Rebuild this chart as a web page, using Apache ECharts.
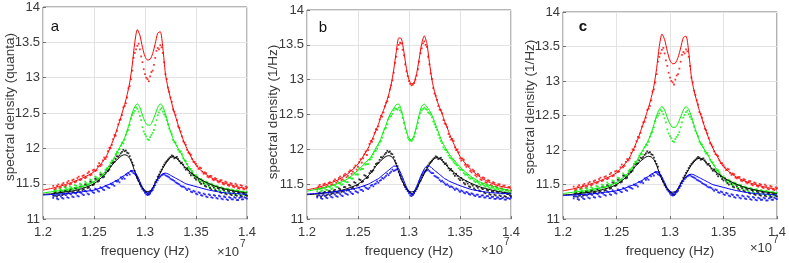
<!DOCTYPE html>
<html><head><meta charset="utf-8">
<script src="https://cdn.jsdelivr.net/npm/echarts@6/dist/echarts.min.js"></script>
<style>html,body{margin:0;padding:0;background:#fff}#c{width:789px;height:263px}</style>
</head><body><div id="c"></div>
<script>
// frequency (x 1e7) for fitted curves
const lineX = [1.20,1.21,1.22,1.23,1.24,1.25,
  1.26,1.2625,1.265,1.2675,1.27,1.2725,1.275,1.2775,1.28,1.2825,1.285,1.2875,1.29,1.2925,1.295,1.2975,
  1.30,1.3025,1.305,1.3075,1.31,1.3125,1.315,1.3175,1.32,1.3225,1.325,1.3275,1.33,1.3325,1.335,1.3375,1.34,
  1.35,1.36,1.37,1.38,1.39,1.40];
// frequency (x 1e7) for measured points, two interleaved sweeps
const dotX = [1.21,1.2125,1.215,1.2175,1.22,1.2225,1.225,1.2275,1.23,1.2325,1.235,1.2375,1.24,1.2425,1.245,1.2475,
  1.25,1.2525,1.255,1.2575,1.26,1.2625,1.265,1.2675,1.27,1.2725,1.275,1.2775,1.28,1.2825,1.285,1.2875,1.29,1.2925,
  1.295,1.2975,1.30,1.3025,1.305,1.3075,1.31,1.3125,1.315,1.3175,1.32,1.3225,1.325,1.3275,1.33,1.3325,1.335,1.3375,
  1.34,1.3425,1.345,1.3475,1.35,1.3525,1.355,1.3575,1.36,1.3625,1.365,1.3675,1.37,1.3725,1.375,1.3775,1.38,1.3825,
  1.385,1.3875,1.39,1.3925,1.395,1.3975,1.40];
const dotX2 = [1.21125,1.21375,1.21625,1.21875,1.22125,1.22375,1.22625,1.22875,1.23125,1.23375,1.23625,1.23875,
  1.24125,1.24375,1.24625,1.24875,1.25125,1.25375,1.25625,1.25875,1.26125,1.26375,1.26625,1.26875,1.27125,1.27375,
  1.27625,1.27875,1.28125,1.28375,1.28625,1.28875,1.29125,1.29375,1.29625,1.29875,1.30125,1.30375,1.30625,1.30875,
  1.31125,1.31375,1.31625,1.31875,1.32125,1.32375,1.32625,1.32875,1.33125,1.33375,1.33625,1.33875,1.34125,1.34375,
  1.34625,1.34875,1.35125,1.35375,1.35625,1.35875,1.36125,1.36375,1.36625,1.36875,1.37125,1.37375,1.37625,1.37875,
  1.38125,1.38375,1.38625,1.38875,1.39125,1.39375,1.39625,1.39875];

// panel a / c fitted curves
const redLineA = [11.41,11.44,11.48,11.53,11.59,11.67,11.84,11.90,11.98,12.07,12.16,12.27,12.38,12.50,12.62,12.76,12.93,13.18,13.50,13.68,13.60,13.43,13.30,13.25,13.26,13.34,13.48,13.63,13.65,13.42,13.06,12.86,12.71,12.57,12.45,12.33,12.22,12.12,12.03,11.76,11.63,11.55,11.50,11.46,11.43];
const greenLineA = [11.37,11.39,11.41,11.44,11.47,11.53,11.65,11.70,11.76,11.81,11.87,11.94,12.01,12.07,12.15,12.25,12.37,12.50,12.59,12.63,12.58,12.47,12.38,12.33,12.33,12.39,12.48,12.58,12.63,12.59,12.49,12.36,12.24,12.14,12.06,12.00,11.94,11.87,11.80,11.60,11.51,11.46,11.42,11.40,11.38];
const blackLineA = [11.35,11.36,11.38,11.40,11.44,11.50,11.62,11.66,11.71,11.76,11.80,11.84,11.87,11.90,11.91,11.90,11.86,11.78,11.67,11.57,11.50,11.44,11.40,11.39,11.40,11.44,11.51,11.58,11.65,11.72,11.78,11.83,11.87,11.88,11.87,11.84,11.80,11.76,11.72,11.60,11.52,11.46,11.42,11.39,11.37];
const blueLineA = [11.34,11.35,11.36,11.37,11.39,11.41,11.46,11.48,11.49,11.51,11.53,11.55,11.57,11.60,11.62,11.65,11.67,11.69,11.67,11.61,11.53,11.45,11.40,11.37,11.39,11.44,11.51,11.57,11.61,11.64,11.65,11.64,11.62,11.60,11.58,11.56,11.54,11.52,11.50,11.46,11.42,11.39,11.37,11.36,11.35];
// panel b fitted curves
const redLineB = [11.42,11.45,11.50,11.56,11.65,11.79,12.02,12.10,12.18,12.27,12.36,12.47,12.56,12.66,12.78,12.93,13.14,13.40,13.60,13.59,13.40,13.16,13.00,12.94,12.96,13.09,13.30,13.52,13.63,13.52,13.25,13.00,12.83,12.70,12.60,12.51,12.40,12.31,12.21,11.90,11.72,11.60,11.52,11.47,11.44];
const greenLineB = [11.40,11.43,11.46,11.51,11.58,11.70,11.85,11.89,11.95,12.02,12.08,12.16,12.26,12.35,12.46,12.53,12.59,12.64,12.65,12.56,12.41,12.26,12.16,12.14,12.20,12.34,12.50,12.62,12.65,12.61,12.56,12.49,12.40,12.30,12.20,12.11,12.04,11.98,11.92,11.75,11.62,11.53,11.48,11.44,11.41];
const blackLineB = blackLineA;
const blueLineB = [11.36,11.37,11.38,11.40,11.42,11.45,11.50,11.52,11.54,11.56,11.58,11.61,11.64,11.67,11.70,11.73,11.76,11.76,11.72,11.64,11.55,11.46,11.39,11.36,11.39,11.47,11.56,11.65,11.72,11.76,11.76,11.73,11.70,11.67,11.64,11.61,11.58,11.56,11.54,11.48,11.43,11.40,11.38,11.37,11.36];

// panel a / c measured points (sweep 1 on dotX, sweep 2 on dotX2)
const redDotsA = [11.47,11.43,11.49,11.45,11.51,11.47,11.54,11.50,11.56,11.53,11.60,11.56,11.62,11.59,11.67,11.63,11.70,11.69,11.79,11.77,11.87,11.88,12.01,12.05,12.19,12.25,12.40,12.47,12.60,12.72,12.88,13.10,13.35,13.45,13.40,13.22,13.05,12.98,13.02,13.10,13.28,13.42,13.46,13.35,13.05,12.86,12.72,12.55,12.47,12.31,12.24,12.10,12.05,11.94,11.91,11.81,11.78,11.71,11.72,11.64,11.65,11.59,11.61,11.55,11.57,11.52,11.55,11.49,11.52,11.47,11.50,11.45,11.48,11.43,11.47,11.42,11.45];
const redDotsA2 = [11.42,11.47,11.44,11.49,11.46,11.52,11.49,11.55,11.52,11.58,11.55,11.61,11.58,11.65,11.62,11.69,11.68,11.75,11.75,11.83,11.85,11.96,12.00,12.13,12.18,12.34,12.41,12.58,12.64,12.85,12.98,13.28,13.40,13.48,13.30,13.12,13.00,12.95,13.08,13.18,13.38,13.40,13.43,13.22,12.98,12.80,12.66,12.52,12.40,12.29,12.17,12.08,11.98,11.93,11.85,11.81,11.75,11.73,11.67,11.66,11.60,11.61,11.56,11.58,11.53,11.55,11.50,11.53,11.48,11.51,11.46,11.50,11.44,11.48,11.43,11.46];
const greenDotsA = [11.36,11.41,11.37,11.42,11.38,11.44,11.40,11.45,11.41,11.47,11.43,11.49,11.45,11.51,11.49,11.55,11.52,11.59,11.57,11.64,11.63,11.72,11.74,11.83,11.86,11.95,11.99,12.08,12.12,12.24,12.33,12.47,12.53,12.56,12.46,12.30,12.20,12.13,12.16,12.22,12.33,12.47,12.55,12.52,12.45,12.34,12.24,12.12,12.08,11.98,11.96,11.86,11.82,11.72,11.71,11.62,11.62,11.54,11.57,11.50,11.53,11.46,11.50,11.44,11.47,11.41,11.45,11.39,11.43,11.37,11.42,11.36,11.41,11.35,11.39,11.34,11.38];
const greenDotsA2 = [11.40,11.36,11.43,11.39,11.45,11.40,11.46,11.42,11.48,11.44,11.50,11.46,11.53,11.48,11.56,11.52,11.60,11.57,11.66,11.62,11.70,11.71,11.80,11.82,11.92,11.94,12.04,12.07,12.19,12.26,12.42,12.50,12.58,12.52,12.40,12.24,12.17,12.12,12.19,12.26,12.40,12.51,12.57,12.48,12.40,12.28,12.20,12.09,12.04,11.95,11.92,11.83,11.78,11.70,11.68,11.60,11.59,11.53,11.55,11.49,11.52,11.45,11.49,11.43,11.46,11.40,11.44,11.38,11.43,11.37,11.41,11.35,11.40,11.34,11.39,11.35];
const blackDotsA = [11.33,11.38,11.34,11.39,11.35,11.40,11.37,11.42,11.38,11.43,11.40,11.46,11.42,11.48,11.45,11.52,11.49,11.56,11.54,11.62,11.60,11.69,11.70,11.79,11.81,11.89,11.90,11.95,11.96,11.94,11.89,11.80,11.68,11.58,11.49,11.43,11.39,11.36,11.38,11.43,11.52,11.60,11.67,11.74,11.80,11.84,11.88,11.89,11.87,11.85,11.79,11.77,11.70,11.69,11.62,11.62,11.56,11.56,11.50,11.51,11.46,11.48,11.42,11.45,11.40,11.43,11.37,11.41,11.35,11.39,11.34,11.38,11.33,11.37,11.32,11.36,11.33];
const blackDotsA2 = [11.37,11.32,11.38,11.34,11.40,11.36,11.41,11.38,11.44,11.39,11.46,11.41,11.49,11.44,11.53,11.48,11.57,11.53,11.63,11.59,11.66,11.68,11.75,11.80,11.85,11.88,11.93,11.98,11.97,11.93,11.84,11.76,11.63,11.54,11.46,11.41,11.38,11.35,11.40,11.47,11.55,11.63,11.70,11.77,11.82,11.86,11.90,11.86,11.88,11.82,11.80,11.73,11.72,11.65,11.65,11.58,11.59,11.52,11.54,11.47,11.50,11.44,11.47,11.41,11.44,11.38,11.42,11.36,11.40,11.35,11.39,11.34,11.37,11.33,11.36,11.34];
const blueDotsA = [11.30,11.33,11.28,11.32,11.29,11.34,11.30,11.35,11.31,11.36,11.32,11.37,11.34,11.39,11.35,11.40,11.37,11.42,11.39,11.44,11.41,11.46,11.44,11.49,11.47,11.53,11.52,11.57,11.57,11.62,11.63,11.67,11.64,11.59,11.51,11.43,11.37,11.34,11.36,11.41,11.48,11.55,11.60,11.63,11.62,11.60,11.57,11.55,11.52,11.50,11.47,11.46,11.43,11.43,11.39,11.40,11.36,11.38,11.34,11.36,11.32,11.35,11.31,11.34,11.30,11.33,11.29,11.32,11.28,11.31,11.28,11.31,11.27,11.30,11.28,11.31,11.29];
const blueDotsA2 = [11.33,11.29,11.34,11.30,11.35,11.31,11.36,11.32,11.37,11.33,11.38,11.35,11.40,11.36,11.42,11.38,11.43,11.40,11.45,11.42,11.47,11.45,11.50,11.49,11.54,11.54,11.59,11.59,11.63,11.65,11.68,11.65,11.62,11.55,11.47,11.40,11.35,11.35,11.39,11.45,11.52,11.58,11.62,11.64,11.61,11.59,11.56,11.54,11.51,11.49,11.46,11.45,11.41,11.42,11.38,11.39,11.35,11.37,11.33,11.35,11.31,11.34,11.30,11.33,11.29,11.32,11.28,11.31,11.27,11.30,11.28,11.30,11.27,11.31,11.28,11.30];
// panel b measured points
const redDotsB = [11.43,11.49,11.45,11.51,11.48,11.53,11.50,11.57,11.54,11.61,11.57,11.65,11.62,11.70,11.68,11.77,11.75,11.86,11.87,11.97,11.99,12.12,12.15,12.29,12.33,12.48,12.53,12.67,12.75,12.92,13.10,13.33,13.50,13.52,13.35,13.12,12.98,12.92,12.95,13.06,13.26,13.45,13.55,13.47,13.22,13.01,12.80,12.71,12.57,12.52,12.37,12.32,12.18,12.15,12.03,12.00,11.87,11.87,11.78,11.78,11.69,11.71,11.63,11.65,11.57,11.60,11.53,11.56,11.49,11.53,11.47,11.50,11.44,11.48,11.42,11.46,11.41];
const redDotsB2 = [11.47,11.44,11.50,11.46,11.52,11.49,11.55,11.52,11.59,11.56,11.63,11.60,11.68,11.65,11.74,11.71,11.82,11.81,11.93,11.92,12.08,12.11,12.24,12.28,12.43,12.47,12.62,12.69,12.86,12.99,13.24,13.44,13.53,13.43,13.22,13.05,12.94,12.93,13.00,13.15,13.38,13.52,13.50,13.33,13.09,12.88,12.77,12.62,12.56,12.42,12.36,12.22,12.14,12.12,11.99,11.96,11.84,11.85,11.75,11.76,11.67,11.69,11.61,11.63,11.56,11.59,11.52,11.55,11.48,11.52,11.46,11.50,11.44,11.48,11.42,11.46];
const greenDotsB = [11.40,11.43,11.41,11.44,11.42,11.46,11.44,11.48,11.46,11.51,11.50,11.54,11.53,11.59,11.58,11.64,11.64,11.71,11.72,11.78,11.79,11.86,11.93,11.98,12.06,12.12,12.24,12.31,12.43,12.48,12.56,12.58,12.60,12.53,12.38,12.24,12.14,12.12,12.18,12.30,12.45,12.56,12.60,12.57,12.52,12.46,12.36,12.28,12.16,12.09,12.00,11.96,11.88,11.85,11.80,11.77,11.71,11.70,11.64,11.63,11.58,11.58,11.53,11.53,11.49,11.50,11.46,11.47,11.44,11.45,11.42,11.43,11.40,11.42,11.38,11.40,11.37];
const greenDotsB2 = [11.44,11.40,11.45,11.42,11.47,11.43,11.49,11.46,11.52,11.49,11.55,11.53,11.60,11.58,11.66,11.64,11.73,11.72,11.80,11.79,11.85,11.89,11.97,12.01,12.10,12.17,12.29,12.36,12.47,12.51,12.59,12.57,12.56,12.45,12.30,12.17,12.13,12.14,12.24,12.38,12.52,12.58,12.58,12.53,12.50,12.40,12.32,12.21,12.12,12.03,11.99,11.91,11.87,11.82,11.78,11.73,11.71,11.66,11.64,11.60,11.59,11.55,11.54,11.51,11.51,11.48,11.48,11.45,11.46,11.43,11.44,11.41,11.42,11.39,11.41,11.38];
const blackDotsB = blackDotsA;
const blackDotsB2 = blackDotsA2;
const blueDotsB = [11.31,11.34,11.29,11.33,11.30,11.34,11.31,11.35,11.32,11.36,11.33,11.37,11.35,11.39,11.36,11.40,11.38,11.42,11.40,11.45,11.43,11.48,11.47,11.51,11.52,11.56,11.58,11.62,11.63,11.68,11.69,11.71,11.68,11.61,11.52,11.43,11.37,11.33,11.37,11.45,11.54,11.63,11.68,11.70,11.69,11.66,11.62,11.60,11.56,11.55,11.51,11.50,11.46,11.46,11.42,11.43,11.39,11.40,11.37,11.38,11.35,11.36,11.33,11.35,11.32,11.34,11.31,11.33,11.30,11.32,11.29,11.31,11.29,11.31,11.28,11.30,11.31];
const blueDotsB2 = [11.34,11.30,11.35,11.31,11.36,11.32,11.37,11.33,11.38,11.34,11.39,11.36,11.41,11.37,11.43,11.39,11.45,11.42,11.47,11.44,11.45,11.49,11.50,11.54,11.55,11.59,11.60,11.65,11.66,11.71,11.70,11.72,11.64,11.57,11.47,11.40,11.34,11.35,11.41,11.49,11.58,11.65,11.69,11.71,11.67,11.66,11.61,11.59,11.54,11.53,11.49,11.48,11.47,11.44,11.44,11.41,11.41,11.38,11.39,11.36,11.37,11.34,11.35,11.32,11.34,11.31,11.33,11.30,11.32,11.29,11.31,11.29,11.30,11.28,11.30,11.29];

const yTicks = [11, 11.5, 12, 12.5, 13, 13.5, 14];
const xTicks = [1.2, 1.25, 1.3, 1.35, 1.4];
const panelTags = ['a', 'b', 'c'];
const yTitles = ['spectral density (quanta)', 'spectral density (1/Hz)', 'spectral density (1/Hz)'];
const xTitle = 'frequency (Hz)';

const FONT = '"Liberation Sans", Arial, Helvetica, sans-serif';
const TXT = '#3a3a3a';
const COLORS = {red:'#ff0000', green:'#00f000', black:'#000000', blue:'#0000ff'};

const grids = [
  {left:43, top:7, width:204, height:220},
  {left:307, top:10, width:204, height:215},
  {left:563, top:12, width:217, height:211}
];
const panelData = [
  {lines:[redLineA,greenLineA,blackLineA,blueLineA], dots:[redDotsA,greenDotsA,blackDotsA,blueDotsA], dots2:[redDotsA2,greenDotsA2,blackDotsA2,blueDotsA2]},
  {lines:[redLineB,greenLineB,blackLineB,blueLineB], dots:[redDotsB,greenDotsB,blackDotsB,blueDotsB], dots2:[redDotsB2,greenDotsB2,blackDotsB2,blueDotsB2]},
  {lines:[redLineA,greenLineA,blackLineA,blueLineA], dots:[redDotsA,greenDotsA,blackDotsA,blueDotsA], dots2:[redDotsA2,greenDotsA2,blackDotsA2,blueDotsA2]}
];
const colorOrder = [COLORS.red, COLORS.green, COLORS.black, COLORS.blue];

function pts(xs, ys){ return xs.map((x,i)=>[x, ys[i]]); }

const option = {
  animation:false,
  backgroundColor:'#fff',
  grid: grids.map(g=>Object.assign({show:true, borderColor:'#707070', borderWidth:1, backgroundColor:'transparent'}, g)),
  xAxis: grids.map((g,k)=>({
    type:'value', gridIndex:k, min:xTicks[0], max:xTicks[xTicks.length-1], interval:0.05,
    name:xTitle, nameLocation:'middle', nameGap:15,
    nameTextStyle:{fontFamily:FONT, fontSize:13.5, color:TXT},
    axisLine:{show:false},
    axisTick:{show:true, inside:true, length:3, lineStyle:{color:'#707070'}},
    axisLabel:{fontFamily:FONT, fontSize:13, color:TXT, margin:7, showMinLabel:true, showMaxLabel:true,
      formatter:v=>String(+v.toFixed(2))},
    splitLine:{show:true, lineStyle:{color:'#e3e3e3', width:1}}
  })),
  yAxis: grids.map((g,k)=>({
    type:'value', gridIndex:k, min:yTicks[0], max:yTicks[yTicks.length-1], interval:0.5,
    axisLine:{show:false},
    axisTick:{show:true, inside:true, length:3, lineStyle:{color:'#707070'}},
    axisLabel:{fontFamily:FONT, fontSize:13, color:TXT, margin:3, showMinLabel:true, showMaxLabel:true},
    splitLine:{show:true, lineStyle:{color:'#e3e3e3', width:1}}
  })),
  series: [],
  graphic: []
};

panelData.forEach((p,k)=>{
  [[dotX,p.dots],[dotX2,p.dots2]].forEach(([xs,set])=>{
    set.forEach((d,j)=>{
      option.series.push({type:'scatter', xAxisIndex:k, yAxisIndex:k, data:pts(xs,d),
        symbol:'rect', symbolSize:1.8, itemStyle:{color:colorOrder[j]}, silent:true, z:2});
    });
  });
  p.lines.forEach((l,j)=>{
    option.series.push({type:'line', xAxisIndex:k, yAxisIndex:k, data:pts(lineX,l),
      showSymbol:false, smooth:0.25, lineStyle:{width:1, color:colorOrder[j]}, silent:true, z:3});
  });
});

// y-axis titles (rotated), placed as in the reference
const yTitlePos = [[10,107],[273,112],[530,107]];
yTitlePos.forEach((t,k)=>{
  option.graphic.push({type:'text', x:t[0], y:t[1], rotation:Math.PI/2,
    style:{text:yTitles[k], font:'13.5px '+FONT, fill:TXT, align:'center', verticalAlign:'middle'}});
});
const tagPos = [[55,27],[323,28],[583,27]];
tagPos.forEach((t,k)=>{
  option.graphic.push({type:'text', x:t[0], y:t[1], style:{text:panelTags[k], font:(k===2?'bold ':'')+'15px '+FONT,
    fill:'#111', align:'center', verticalAlign:'middle'}});
});
grids.forEach((g,k)=>{
  const right = g.left + g.width, bottom = g.top + g.height;
  option.graphic.push({type:'text', x:right-8, y:bottom+25.5, style:{text:'\u00d710', font:'13px '+FONT, fill:TXT, align:'right', verticalAlign:'middle'}});
  option.graphic.push({type:'text', x:right-7, y:bottom+17.5, style:{text:'7', font:'10px '+FONT, fill:TXT, align:'left', verticalAlign:'middle'}});
});

const chart = echarts.init(document.getElementById('c'), null, {renderer:'canvas'});
chart.setOption(option);
</script>
</body></html>
